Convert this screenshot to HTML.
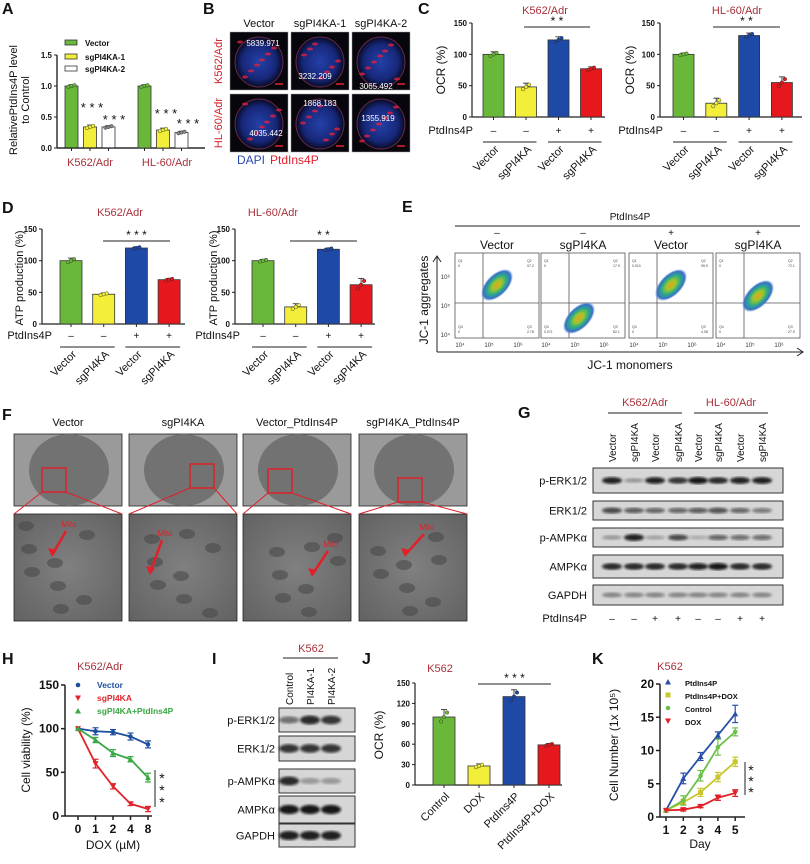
<!DOCTYPE html>
<html><head><meta charset="utf-8"><style>
html,body{margin:0;padding:0;background:#fff;}
svg{display:block;font-family:"Liberation Sans",Arial,sans-serif;}
</style></head><body>
<svg id="fig" width="810" height="864" viewBox="0 0 810 864" xmlns="http://www.w3.org/2000/svg">
<defs>
<radialGradient id="nuc" cx="50%" cy="50%" r="50%"><stop offset="0" stop-color="#2440a8"/><stop offset="0.7" stop-color="#17287a"/><stop offset="1" stop-color="#080a24"/></radialGradient>
<radialGradient id="cloud" cx="50%" cy="50%" r="50%"><stop offset="0" stop-color="#e8a020"/><stop offset="0.3" stop-color="#9cc82a"/><stop offset="0.6" stop-color="#2aa88a"/><stop offset="0.85" stop-color="#3a70c8"/><stop offset="1" stop-color="#7aa0e0" stop-opacity="0"/></radialGradient>
<radialGradient id="tem" cx="50%" cy="50%" r="70%"><stop offset="0" stop-color="#808080"/><stop offset="1" stop-color="#626262"/></radialGradient>
<filter id="blur1"><feGaussianBlur stdDeviation="1.2"/></filter>
</defs>
</svg>
<script>
// ---------- data ----------
const aCats = ["K562/Adr","HL-60/Adr"];
const aK562 = [1.0,0.34,0.34];
const aHL60 = [1.0,0.29,0.25];
const cK562 = [100,48,123,77];
const cK562Err = [4,6,5,3];
const cHL60 = [100,22,130,55];
const cHL60Err = [2,8,4,9];
const dK562 = [100,47,120,70];
const dK562Err = [4,2,2,2];
const dHL60 = [100,27,118,62];
const dHL60Err = [2,5,2,10];
const jVals = [100,28,130,59];
const jErr = [11,3,10,2];
const jCats = ["Control","DOX","PtdIns4P","PtdIns4P+DOX"];
const hDoses = ["0","1","2","4","8"];
const hVector = [100,97,96,91,82];
const hSg = [100,60,34,14,8];
const hSgPtd = [100,87,72,65,44];
const hErrV = [0,4,3,4,4];
const hErrS = [0,5,3,2,3];
const hErrG = [0,3,4,3,5];
const kDays = ["1","2","3","4","5"];
const kPtd = [1,5.8,9.1,12.3,15.5];
const kPtdDox = [1,2.2,3.7,6,8.3];
const kControl = [1,2.5,6.2,10.5,12.8];
const kDox = [1,1.1,1.6,2.9,3.6];
const kErrP = [0,0.8,0.6,0.5,1.3];
const kErrPD = [0,0.4,0.6,0.7,0.7];
const kErrC = [0,0.7,0.8,1.2,0.6];
const kErrD = [0,0.2,0.2,0.4,0.5];

const NS="http://www.w3.org/2000/svg";
const svg=document.getElementById('fig');
const GREEN="#6ab83a",YEL="#f2ee3a",BLUE="#1f49a6",RED="#e6181d",TRED="#a8303a";
function add(tag,attrs,parent){const e=document.createElementNS(NS,tag);for(const k in attrs)e.setAttribute(k,attrs[k]);(parent||svg).appendChild(e);return e;}
function lab(e,name,inter){
  
  
  return e;}
function txt(x,y,s,opt){opt=opt||{};const t=add('text',{x:x,y:y,'font-size':opt.fs||11,fill:opt.fill||'#111','text-anchor':opt.anchor||'start','font-weight':opt.bold?'bold':'normal'});if(opt.rot!==undefined)t.setAttribute('transform','rotate('+opt.rot+' '+x+' '+y+')');t.textContent=s;return t;}
function line(x1,y1,x2,y2,c,w){return add('line',{x1:x1,y1:y1,x2:x2,y2:y2,stroke:c||'#222','stroke-width':w||1});}

// panel letters
[["A",2,14],["B",203,14],["C",418,14],["D",2,213],["E",402,212],["F",2,420],["G",518,418],["H",2,664],["I",212,664],["J",362,664],["K",592,664]].forEach(p=>{
  const t=txt(p[1],p[2],p[0],{fs:16,bold:true});
  lab(t,'panel-label-'+p[0].toLowerCase());
});

// ---------- bar chart ----------
function barChart(c,vals,errs,colors,name){
  const sy=v=>c.y0-v/c.max*(c.y0-c.yTop);
  const ax=line(c.ox,c.y0,c.ox,c.yTop,'#222',1.2);
  lab(ax,name+'-y-axis');
  const xax=line(c.ox,c.y0,c.xe,c.y0,'#222',1.2);
  lab(xax,name+'-x-axis');
  c.ticks.forEach(t=>{
    const tk=line(c.ox-3,sy(t),c.ox,sy(t));
    lab(tk,name+'-y-tick');
    const tl=txt(c.ox-5,sy(t)+3,c.fmt?c.fmt(t):String(t),{fs:c.tfs||8,bold:true,anchor:'end'});
    lab(tl,name+'-y-tick-label');
  });
  vals.forEach((v,i)=>{
    const x=c.x0+i*c.step, cx=x+c.bw/2;
    const tk=line(cx,c.y0,cx,c.y0+3);
    lab(tk,name+'-x-tick');
    const r=add('rect',{x:x,y:sy(v),width:c.bw,height:c.y0-sy(v),fill:colors[i],stroke:'#333','stroke-width':0.8});
    
    
    const e=errs?errs[i]:0;
    if(e){
      const el=line(cx,sy(v),cx,sy(v+e),'#333',0.9);
      
      
      line(cx-3,sy(v+e),cx+3,sy(v+e),'#333',0.9);
    }
    const dc=colors[i]==='#ffffff'?'#888':colors[i];
    [-0.6,0,0.6].forEach((f,j)=>{
      const d=add('circle',{cx:cx+(j-1)*3,cy:sy(v+f*(e||0.02*c.max)),r:1.8,fill:dc,stroke:'#222','stroke-width':0.4});
      
      
    });
  });
  return sy;
}
function sigBar(x1,x2,y,s,name){
  lab(line(x1,y,x2,y,'#222',1),name+'-sig-line');
  lab(txt((x1+x2)/2,y-2,s,{fs:12,anchor:'middle'}),name+'-sig-stars');
}
function ptdRow(c,labelX,y,signs,name){
  lab(txt(labelX,y,'PtdIns4P',{fs:11,anchor:'end'}),name+'-ptdins4p-label');
  signs.forEach((s,i)=>{const cx=c.x0+i*c.step+c.bw/2;lab(txt(cx,y,s,{fs:10,anchor:'middle'}),name+'-ptdins4p-sign');});
  const g1=line(c.x0,y+8,c.x0+c.step+c.bw,y+8,'#222',0.9);lab(g1,name+'-group-line');
  const g2=line(c.x0+2*c.step,y+8,c.x0+3*c.step+c.bw,y+8,'#222',0.9);lab(g2,name+'-group-line');
  ["Vector","sgPI4KA","Vector","sgPI4KA"].forEach((s,i)=>{const cx=c.x0+i*c.step+c.bw/2+6;lab(txt(cx,y+16,s,{fs:11,anchor:'end',rot:-45}),name+'-x-label');});
}
const C4=[GREEN,YEL,BLUE,RED];

// ---------- A ----------
const cfgA={ox:57,xe:205,y0:148,yTop:55,max:1.5,ticks:[0,0.5,1,1.5],fmt:t=>t.toFixed(1),x0:65,step:18.5,bw:13};
barChart(cfgA,aK562,[0.02,0.03,0.02],[GREEN,YEL,'#ffffff'],'a-k562');
barChart(Object.assign({},cfgA,{x0:138,ticks:[]}),aHL60,[0.02,0.03,0.02],[GREEN,YEL,'#ffffff'],'a-hl60');
aCats.forEach((s,i)=>lab(txt([90,167][i],166,s,{fs:11,fill:TRED,anchor:'middle'}),'a-category-label'));
lab(txt(17,100,'RelativePtdIns4P level',{fs:11,anchor:'middle',rot:-90}),'a-y-axis-title');
lab(txt(29,100,'to Control',{fs:11,anchor:'middle',rot:-90}),'a-y-axis-title-line2');
[["Vector",GREEN,43],["sgPI4KA-1",YEL,57],["sgPI4KA-2","#ffffff",69]].forEach(l=>{
  lab(add('rect',{x:65,y:l[2]-3,width:12,height:5,fill:l[1],stroke:'#333','stroke-width':0.8}),'a-legend-swatch');
  lab(txt(85,l[2]+3,l[0],{fs:8,bold:true}),'a-legend-entry');
});
[[92,112],[114,124],[166,118],[188,128]].forEach(p=>lab(txt(p[0],p[1],'* * *',{fs:13,anchor:'middle'}),'a-sig-stars'));

// ---------- B ----------
const bCols=[230,291,352],bRows=[32,94];
["Vector","sgPI4KA-1","sgPI4KA-2"].forEach((s,i)=>lab(txt(bCols[i]+29,27,s,{fs:11,anchor:'middle'}),'b-column-header'));
["K562/Adr","HL-60/Adr"].forEach((s,i)=>lab(txt(222,bRows[i]+29,s,{fs:11,fill:'#d0202a',anchor:'middle',rot:-90}),'b-row-label'));
const bNums=[["5839.971",263,46],["3232.209",315,79],["3065.492",376,89],["4035.442",266,136],["1868.183",320,106],["1355.919",378,121]];
bRows.forEach((ry,r)=>bCols.forEach((cx,c)=>{
  const g=add('g',{});lab(g,'b-image-'+(r*3+c));
  add('rect',{x:cx,y:ry,width:58,height:58,fill:'#06060c',stroke:'#999','stroke-width':0.5},g);
  add('ellipse',{cx:cx+29,cy:ry+30,rx:24,ry:25,fill:'url(#nuc)',stroke:'#6a2a4a','stroke-width':1},g);
  for(let k=0;k<7;k++){add('ellipse',{cx:cx+10+((k*17+c*9+r*5)%40),cy:ry+10+((k*23+c*7)%40),rx:3,ry:1.5,fill:'#e02040',opacity:0.8},g);}
  add('line',{x1:cx+45,y1:ry+52,x2:cx+53,y2:ry+52,stroke:'#e02030','stroke-width':1.5},g);
}));
bNums.forEach(n=>lab(txt(n[1],n[2],n[0],{fs:8,fill:'#fff',anchor:'middle'}),'b-intensity-value'));
lab(txt(237,164,'DAPI',{fs:12,fill:'#2a4ab0'}),'b-legend-dapi');
lab(txt(270,164,'PtdIns4P',{fs:12,fill:'#e02030'}),'b-legend-ptdins4p');

// ---------- C ----------
const cfgC1={ox:472,xe:605,y0:117,yTop:23,max:150,ticks:[0,50,100,150],x0:483,step:32.5,bw:21};
barChart(cfgC1,cK562,cK562Err,C4,'c-k562');
lab(txt(545,14,'K562/Adr',{fs:11,fill:TRED,anchor:'middle'}),'c-k562-title');
sigBar(524,590,27,'* *','c-k562');
ptdRow(cfgC1,473,134,['–','–','+','+'],'c-k562');
lab(txt(445,70,'OCR (%)',{fs:12,anchor:'middle',rot:-90}),'c-k562-y-title');
const cfgC2={ox:660,xe:802,y0:117,yTop:23,max:150,ticks:[0,50,100,150],x0:673,step:32.8,bw:21};
barChart(cfgC2,cHL60,cHL60Err,C4,'c-hl60');
lab(txt(737,14,'HL-60/Adr',{fs:11,fill:TRED,anchor:'middle'}),'c-hl60-title');
sigBar(713,780,27,'* *','c-hl60');
ptdRow(cfgC2,663,134,['–','–','+','+'],'c-hl60');
lab(txt(634,70,'OCR (%)',{fs:12,anchor:'middle',rot:-90}),'c-hl60-y-title');

// ---------- D ----------
const cfgD1={ox:42,xe:185,y0:324,yTop:229,max:150,ticks:[0,50,100,150],x0:60,step:32.7,bw:22};
barChart(cfgD1,dK562,dK562Err,C4,'d-k562');
lab(txt(120,216,'K562/Adr',{fs:11,fill:TRED,anchor:'middle'}),'d-k562-title');
sigBar(103,170,241,'* * *','d-k562');
ptdRow(cfgD1,52,339,['–','–','+','+'],'d-k562');
lab(txt(23,278,'ATP production (%)',{fs:11,anchor:'middle',rot:-90}),'d-k562-y-title');
const cfgD2={ox:235,xe:375,y0:324,yTop:229,max:150,ticks:[0,50,100,150],x0:252,step:32.7,bw:22};
barChart(cfgD2,dHL60,dHL60Err,C4,'d-hl60');
lab(txt(273,216,'HL-60/Adr',{fs:11,fill:TRED,anchor:'middle'}),'d-hl60-title');
sigBar(290,357,241,'* *','d-hl60');
ptdRow(cfgD2,240,339,['–','–','+','+'],'d-hl60');
lab(txt(217,278,'ATP production (%)',{fs:11,anchor:'middle',rot:-90}),'d-hl60-y-title');

// ---------- E ----------
lab(txt(630,220,'PtdIns4P',{fs:10,anchor:'middle'}),'e-header');
lab(line(455,226,800,226,'#222',1),'e-header-line');
const eX=[455,541,629,716],eCloud=[[42,285],[38,318],[42,285],[42,296]];
const eQ=[["0","97.2","2.78","0"],["0","17.9","82.1","0.071"],["0.010","95.9","4.08","0"],["0","72.1","27.9","0"]];
["Vector","sgPI4KA","Vector","sgPI4KA"].forEach((s,i)=>{
  const x=eX[i];
  lab(txt(x+42,236,i<2?'–':'+',{fs:10,anchor:'middle'}),'e-sign');
  lab(txt(x+42,249,s,{fs:12,anchor:'middle'}),'e-column-label');
  const g=add('g',{});lab(g,'e-flow-plot-'+i);
  add('rect',{x:x,y:253,width:84,height:85,fill:'#fff',stroke:'#555','stroke-width':0.8},g);
  add('line',{x1:x+28,y1:253,x2:x+28,y2:338,stroke:'#555','stroke-width':0.8},g);
  add('line',{x1:x,y1:303,x2:x+84,y2:303,stroke:'#555','stroke-width':0.8},g);
  add('ellipse',{cx:x+eCloud[i][0],cy:eCloud[i][1],rx:20,ry:11,fill:'url(#cloud)',transform:'rotate(-45 '+(x+eCloud[i][0])+' '+eCloud[i][1]+')'},g);
  [[x+3,262,'Q1'],[x+72,262,'Q2'],[x+72,328,'Q3'],[x+3,328,'Q4']].forEach((q,k)=>{const t=txt(q[0],q[1],q[2],{fs:3.5,fill:'#444'});g.appendChild(t);const t2=txt(q[0],q[1]+5,eQ[i][k],{fs:3.5,fill:'#444'});g.appendChild(t2);});
  ['10⁴','10⁵','10⁶'].forEach((s,k)=>lab(txt(x+5+k*29,347,s,{fs:6,fill:'#333',anchor:'middle'}),'e-x-tick-label'));
});
['10⁶','10⁵','10⁴'].forEach((s,k)=>lab(txt(450,279+k*29,s,{fs:6,fill:'#333',anchor:'end'}),'e-y-tick-label'));
lab(line(437,352,803,352,'#222',1),'e-x-axis-arrow');
lab(add('path',{d:'M797,348 L803,352 L797,356',fill:'none',stroke:'#222'}),'e-x-arrowhead');
lab(line(437,352,437,256,'#222',1),'e-y-axis-arrow');
lab(add('path',{d:'M433,262 L437,256 L441,262',fill:'none',stroke:'#222'}),'e-y-arrowhead');
lab(txt(428,300,'JC-1 aggregates',{fs:12,anchor:'middle',rot:-90}),'e-y-title');
lab(txt(630,369,'JC-1 monomers',{fs:12,anchor:'middle'}),'e-x-title');

// ---------- F ----------
const fX=[14,129,243,359],fSq=[[42,468],[190,464],[268,469],[398,478]],fArrow=[[66,527,52,555],[162,536,150,573],[328,547,312,575],[424,530,405,555]];
["Vector","sgPI4KA","Vector_PtdIns4P","sgPI4KA_PtdIns4P"].forEach((s,i)=>{
  const x=fX[i];
  lab(txt(x+54,426,s,{fs:11,anchor:'middle'}),'f-column-title');
  const g=add('g',{});lab(g,'f-tem-image-'+i);
  add('rect',{x:x,y:434,width:108,height:72,fill:'#9a9a9a',stroke:'#222','stroke-width':0.8},g);
  add('ellipse',{cx:x+55,cy:470,rx:40,ry:36,fill:'#727272'},g);
  add('rect',{x:x,y:514,width:108,height:107,fill:'url(#tem)',stroke:'#222','stroke-width':0.8},g);
  for(let k=0;k<8;k++)add('ellipse',{cx:x+12+((k*29+i*11)%84),cy:526+((k*37+i*13)%88),rx:8,ry:5,fill:'#4a4a4a',opacity:0.6},g);
  const sq=fSq[i];
  add('rect',{x:sq[0],y:sq[1],width:24,height:24,fill:'none',stroke:'#e0202a','stroke-width':1.5},g);
  add('line',{x1:sq[0],y1:sq[1]+24,x2:x,y2:514,stroke:'#e0202a','stroke-width':1},g);
  add('line',{x1:sq[0]+24,y1:sq[1]+24,x2:x+108,y2:514,stroke:'#e0202a','stroke-width':1},g);
  const a=fArrow[i];
  add('line',{x1:a[0],y1:a[1]+4,x2:a[2],y2:a[3],stroke:'#e0202a','stroke-width':2.5},g);
  add('path',{d:'M'+(a[2]-4)+','+(a[3]-7)+' L'+a[2]+','+(a[3]+2)+' L'+(a[2]+5)+','+(a[3]-5)+'Z',fill:'#e0202a'},g);
  lab(txt(a[0]+3,a[1],'Mito',{fs:8,fill:'#e0202a',anchor:'middle'}),'f-mito-label');
});

// ---------- blots ----------
function blot(x,y,w,h,lanes,ints,name,thick){
  const g=add('g',{});lab(g,name);
  add('rect',{x:x,y:y,width:w,height:h,fill:'#d6d6d6',stroke:'#333','stroke-width':1},g);
  lanes.forEach((lx,i)=>{
    const b=add('ellipse',{cx:lx,cy:y+h/2,rx:10,ry:(thick||3)*(0.6+ints[i]*0.6),fill:'#111',opacity:ints[i],filter:'url(#blur1)'},g);
    
    
  });
}
const gLanes=[612,634,655,678,698,718,740,762];
lab(txt(645,406,'K562/Adr',{fs:11,fill:TRED,anchor:'middle'}),'g-header-k562');
lab(txt(731,406,'HL-60/Adr',{fs:11,fill:TRED,anchor:'middle'}),'g-header-hl60');
lab(line(608,413,682,413,'#222',1),'g-header-line');
lab(line(694,413,768,413,'#222',1),'g-header-line');
gLanes.forEach((lx,i)=>lab(txt(lx+4,462,i%2?'sgPI4KA':'Vector',{fs:10,anchor:'start',rot:-90}),'g-lane-label'));
const gRows=[["p-ERK1/2",468,25,[0.9,0.3,0.9,0.8,0.95,0.85,0.9,0.9]],["ERK1/2",501,19,[0.7,0.6,0.55,0.55,0.6,0.65,0.55,0.45]],["p-AMPKα",528,19,[0.3,0.9,0.25,0.7,0.2,0.55,0.5,0.5]],["AMPKα",555,23,[0.85,0.85,0.85,0.85,0.9,0.95,0.85,0.85]],["GAPDH",585,20,[0.4,0.4,0.4,0.4,0.4,0.4,0.4,0.4]]];
gRows.forEach(r=>{blot(593,r[1],190,r[2],gLanes,r[3],'g-blot-'+r[0].toLowerCase().replace(/[^a-z0-9]/g,''));lab(txt(587,r[1]+r[2]/2+4,r[0],{fs:11,anchor:'end'}),'g-row-label');});
lab(txt(587,622,'PtdIns4P',{fs:11,anchor:'end'}),'g-ptdins4p-label');
['–','–','+','+','–','–','+','+'].forEach((s,i)=>lab(txt(gLanes[i],622,s,{fs:10,anchor:'middle'}),'g-ptdins4p-sign'));

const iLanes=[289,310,331];
lab(txt(311,652,'K562',{fs:11,fill:TRED,anchor:'middle'}),'i-header');
lab(line(283,658,338,658,'#222',1),'i-header-line');
["Control","PI4KA-1","PI4KA-2"].forEach((s,i)=>lab(txt(iLanes[i]+4,705,s,{fs:10,rot:-90}),'i-lane-label'));
const iRows=[["p-ERK1/2",708,24,[0.5,0.85,0.8]],["ERK1/2",736,25,[0.8,0.8,0.8]],["p-AMPKα",769,24,[0.85,0.3,0.3]],["AMPKα",796,27,[0.95,0.95,0.95]],["GAPDH",824,23,[0.9,0.9,0.9]]];
iRows.forEach(r=>{blot(279,r[1],76,r[2],iLanes,r[3],'i-blot-'+r[0].toLowerCase().replace(/[^a-z0-9]/g,''),4);lab(txt(275,r[1]+r[2]/2+4,r[0],{fs:11,anchor:'end'}),'i-row-label');});

// ---------- J ----------
const cfgJ={ox:415,xe:562,y0:785,yTop:683,max:150,ticks:[0,30,60,90,120,150],x0:433,step:35,bw:22};
barChart(cfgJ,jVals,jErr,C4,'j');
lab(txt(440,672,'K562',{fs:11,fill:TRED,anchor:'middle'}),'j-title');
sigBar(478,551,684,'* * *','j');
jCats.forEach((s,i)=>lab(txt(cfgJ.x0+i*cfgJ.step+cfgJ.bw/2+6,797,s,{fs:11,anchor:'end',rot:-45}),'j-x-label'));
lab(txt(383,735,'OCR (%)',{fs:12,anchor:'middle',rot:-90}),'j-y-title');

// ---------- line charts ----------
function marker(shape,x,y,color){
  if(shape==='tri')return add('path',{d:'M'+(x-3)+','+(y+2.5)+' L'+(x+3)+','+(y+2.5)+' L'+x+','+(y-3)+'Z',fill:color});
  if(shape==='dtri')return add('path',{d:'M'+(x-3)+','+(y-2.5)+' L'+(x+3)+','+(y-2.5)+' L'+x+','+(y+3)+'Z',fill:color});
  if(shape==='sq')return add('rect',{x:x-2.5,y:y-2.5,width:5,height:5,fill:color});
  return add('circle',{cx:x,cy:y,r:2.3,fill:color});
}
function lineChart(c,xLabels,series,name){
  const sy=v=>c.y0-v/c.max*(c.y0-c.yTop);
  const sx=i=>c.x0+i*c.step;
  lab(line(c.ox,c.y0,c.ox,c.yTop,'#222',1.5),name+'-y-axis');
  lab(line(c.ox,c.y0,c.xe,c.y0,'#222',1.5),name+'-x-axis');
  c.ticks.forEach(t=>{lab(line(c.ox-4,sy(t),c.ox,sy(t),'#222',1.5),name+'-y-tick');lab(txt(c.ox-6,sy(t)+4,String(t),{fs:12,bold:true,anchor:'end'}),name+'-y-tick-label');});
  xLabels.forEach((s,i)=>{lab(line(sx(i),c.y0,sx(i),c.y0+4,'#222',1.5),name+'-x-tick');lab(txt(sx(i),c.y0+17,s,{fs:12,bold:true,anchor:'middle'}),name+'-x-tick-label');});
  series.forEach(se=>{
    const p=add('polyline',{points:se.vals.map((v,i)=>sx(i)+','+sy(v)).join(' '),fill:'none',stroke:se.color,'stroke-width':1.8});
    
    
    se.vals.forEach((v,i)=>{
      const e=se.errs[i];
      if(e){line(sx(i),sy(v-e),sx(i),sy(v+e),se.color,1.2);line(sx(i)-3,sy(v+e),sx(i)+3,sy(v+e),se.color,1.2);line(sx(i)-3,sy(v-e),sx(i)+3,sy(v-e),se.color,1.2);}
      const m=marker(se.shape,sx(i),sy(v),se.color);
      
      
    });
  });
}
lineChart({ox:65,xe:152,y0:816,yTop:685,max:150,ticks:[0,50,100,150],x0:78,step:17.5},hDoses,[
  {id:'vector',vals:hVector,errs:hErrV,color:'#1d4e9e',shape:'circ'},
  {id:'sgpi4ka',vals:hSg,errs:hErrS,color:'#e0242b',shape:'dtri'},
  {id:'sgpi4ka-ptdins4p',vals:hSgPtd,errs:hErrG,color:'#3aa844',shape:'tri'}],'h');
lab(txt(100,670,'K562/Adr',{fs:11,fill:TRED,anchor:'middle'}),'h-title');
[["Vector",'#1d4e9e',688,'circ'],["sgPI4KA",'#e0242b',701,'dtri'],["sgPI4KA+PtdIns4P",'#3aa844',714,'tri']].forEach(l=>{
  lab(marker(l[3],78,l[2]-3,l[1]),'h-legend-marker');
  lab(txt(97,l[2],l[0],{fs:8.5,bold:true,fill:l[1]}),'h-legend-entry');
});
lab(line(155,770,155,807,'#222',1),'h-sig-line');
[783,795,807].forEach(y=>lab(txt(162,y,'*',{fs:14,anchor:'middle'}),'h-sig-star'));
lab(txt(30,750,'Cell viability (%)',{fs:12,anchor:'middle',rot:-90}),'h-y-title');
lab(txt(113,849,'DOX (µM)',{fs:12,anchor:'middle'}),'h-x-title');

lineChart({ox:660,xe:745,y0:817,yTop:684,max:20,ticks:[0,5,10,15,20],x0:666,step:17.3},kDays,[
  {id:'ptdins4p',vals:kPtd,errs:kErrP,color:'#2850a8',shape:'tri'},
  {id:'ptdins4p-dox',vals:kPtdDox,errs:kErrPD,color:'#c8c62c',shape:'sq'},
  {id:'control',vals:kControl,errs:kErrC,color:'#6cc04a',shape:'circ'},
  {id:'dox',vals:kDox,errs:kErrD,color:'#e21f26',shape:'dtri'}],'k');
lab(txt(670,670,'K562',{fs:11,fill:TRED,anchor:'middle'}),'k-title');
[["PtdIns4P",'#2850a8',686,'tri'],["PtdIns4P+DOX",'#c8c62c',699,'sq'],["Control",'#6cc04a',712,'circ'],["DOX",'#e21f26',725,'dtri']].forEach(l=>{
  lab(marker(l[3],668,l[2]-4,l[1]),'k-legend-marker');
  lab(txt(685,l[2],l[0],{fs:7.5,bold:true}),'k-legend-entry');
});
lab(line(745,762,745,795,'#222',1),'k-sig-line');
[771,782,793].forEach(y=>lab(txt(751,y+4,'*',{fs:14,anchor:'middle'}),'k-sig-star'));
lab(txt(618,745,'Cell Number (1x 10⁵)',{fs:12,anchor:'middle',rot:-90}),'k-y-title');
lab(txt(700,848,'Day',{fs:12,anchor:'middle'}),'k-x-title');
</script>
</body></html>
